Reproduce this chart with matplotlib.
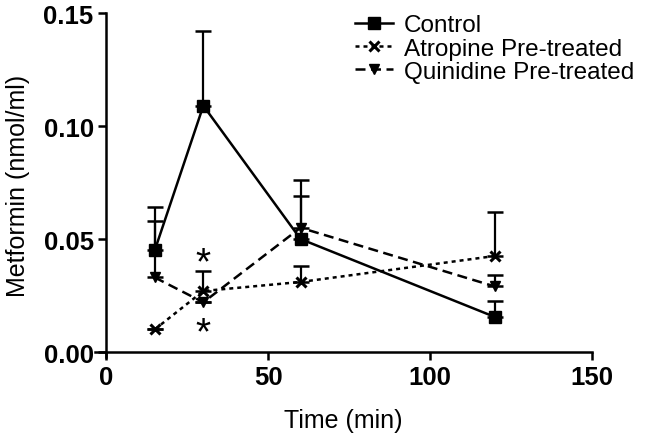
import matplotlib
matplotlib.use("Agg")
import matplotlib.pyplot as plt
import numpy as np

plt.rcParams["font.family"] = ["Liberation Sans", "DejaVu Sans"]

# data
time = [15, 30, 60, 120]

control     = [0.045, 0.109, 0.050, 0.0155]
control_err = [0.019, 0.033, 0.019, 0.007]

atropine     = [0.010, 0.027, 0.031, 0.0425]
atropine_err = [0.0, 0.009, 0.007, 0.0195]

quinidine     = [0.033, 0.022, 0.055, 0.029]
quinidine_err = [0.025, 0.0, 0.021, 0.005]

star_x = [30, 30]
star_y = [0.0412, 0.0100]

fig = plt.figure(figsize=(6.45, 4.39), dpi=100)
ax = fig.add_axes([0.147, 0.184, 0.771, 0.784])

series = [
    ("Control", control, control_err, "-", "s", 8.5),
    ("Atropine Pre-treated", atropine, atropine_err, (0, (1.6, 1.6)), "x", 7),
    ("Quinidine Pre-treated", quinidine, quinidine_err, (0, (4, 2.2)), "v", 7.5),
]

for label, y, err, ls, mk, ms in series:
    err = np.array(err)
    ax.plot(time, y, color="black", linestyle=ls, linewidth=1.8,
            marker=mk, markersize=ms, markeredgewidth=2.2 if mk == "x" else 1,
            label=label)
    ax.errorbar(time, y, yerr=[np.zeros_like(err), err], fmt="none",
                ecolor="black", elinewidth=1.6, capsize=5.5, capthick=1.8)

for sx, sy in zip(star_x, star_y):
    ax.text(sx, sy, "*", ha="center", va="center_baseline", fontsize=28)

ax.set_xlim(-3.5, 150)
ax.set_ylim(-0.0023, 0.15)
ax.spines["left"].set_position(("data", 0))
ax.spines["bottom"].set_position(("data", 0))
ax.spines["top"].set_visible(False)
ax.spines["right"].set_visible(False)
for s in ("left", "bottom"):
    ax.spines[s].set_linewidth(1.8)

ax.set_xticks([0, 50, 100, 150])
ax.set_yticks([0.00, 0.05, 0.10, 0.15])
ax.set_yticklabels(["0.00", "0.05", "0.10", "0.15"])
ax.tick_params(direction="out", length=6, width=1.8, labelsize=18.5, pad=3)
for t in ax.get_xticklabels() + ax.get_yticklabels():
    t.set_fontweight("bold")

ax.set_xlabel("Time (min)", fontsize=18, labelpad=14)
ax.set_ylabel("Metformin (nmol/ml)", fontsize=18, labelpad=10)

ax.legend(loc="upper right", bbox_to_anchor=(1.128, 1.06), frameon=False,
          fontsize=17.5, handlelength=1.55, handletextpad=0.45, labelspacing=0.05)

fig.savefig("out.png", dpi=100)
